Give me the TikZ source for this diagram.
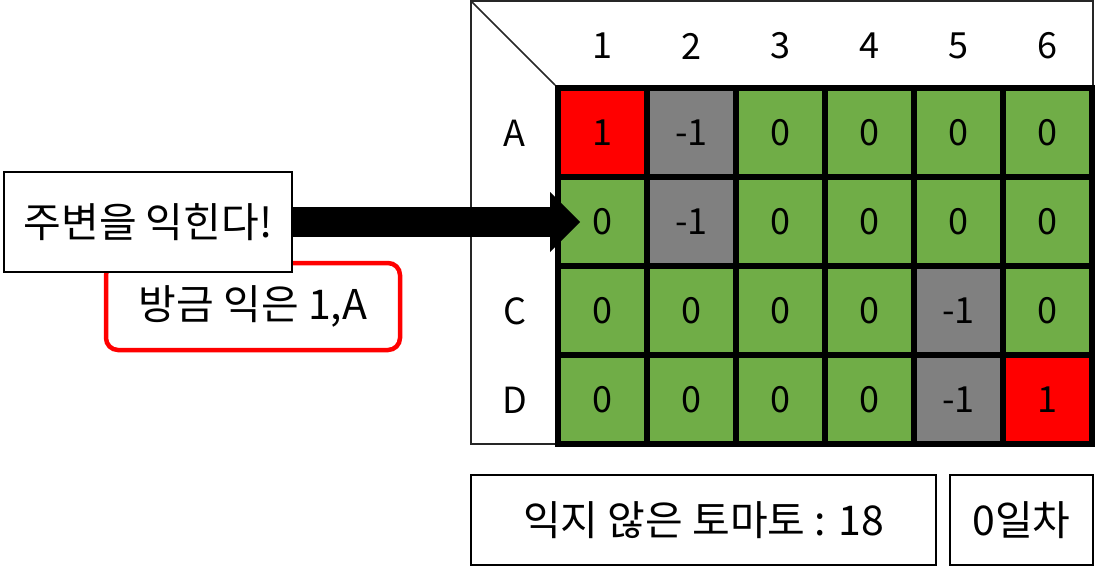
\documentclass[tikz,border=0pt]{standalone}
\usepackage{fontspec}
\setmainfont{Noto Sans CJK KR}
\usetikzlibrary{arrows.meta}
\definecolor{tgreen}{HTML}{70AD47}
\definecolor{tred}{HTML}{FF0000}
\definecolor{tgray}{HTML}{808080}
\begin{document}
\begin{tikzpicture}[x=1pt,y=-1pt,
  every node/.style={font=\fontsize{36}{40}\selectfont, inner sep=0pt},
  cell/.style={draw=black, line width=6pt, minimum width=89pt, minimum height=89pt},
  ripe/.style={cell, fill=tred},
  wall/.style={cell, fill=tgray},
  raw/.style={cell, fill=tgreen},
  kor/.style={font=\fontsize{41}{46}\selectfont},
  txtbox/.style={kor, draw=black, line width=2pt, fill=white},
  redbox/.style={kor, draw=tred, line width=4.5pt, rounded corners=12pt, fill=white},
  framestyle/.style={draw=black!85, line width=1.5pt}]
\useasboundingbox (0,0) rectangle (1098,568);

% outer frame
\coordinate (ftl) at (471,1);
\draw[framestyle] (ftl) rectangle (1093,444);

% headers
\foreach \j in {1,...,6} {
  \node (h\j) at ({602.5+89*(\j-1)},46) {\j};
}
\node (rA) at (514.5,133.5) {A};
\node (rC) at (514.5,311.5) {C};
\node (rD) at (514.5,400.5) {D};

% row A
\node[ripe] (cA1) at (602.5,132.5) {1};
\node[wall] (cA2) at (691.5,132.5) {-1};
\node[raw]  (cA3) at (780.5,132.5) {0};
\node[raw]  (cA4) at (869.5,132.5) {0};
\node[raw]  (cA5) at (958.5,132.5) {0};
\node[raw]  (cA6) at (1047.5,132.5) {0};
% row B
\node[raw]  (cB1) at (602.5,221.5) {0};
\node[wall] (cB2) at (691.5,221.5) {-1};
\node[raw]  (cB3) at (780.5,221.5) {0};
\node[raw]  (cB4) at (869.5,221.5) {0};
\node[raw]  (cB5) at (958.5,221.5) {0};
\node[raw]  (cB6) at (1047.5,221.5) {0};
% row C
\node[raw]  (cC1) at (602.5,310.5) {0};
\node[raw]  (cC2) at (691.5,310.5) {0};
\node[raw]  (cC3) at (780.5,310.5) {0};
\node[raw]  (cC4) at (869.5,310.5) {0};
\node[wall] (cC5) at (958.5,310.5) {-1};
\node[raw]  (cC6) at (1047.5,310.5) {0};
% row D
\node[raw]  (cD1) at (602.5,399.5) {0};
\node[raw]  (cD2) at (691.5,399.5) {0};
\node[raw]  (cD3) at (780.5,399.5) {0};
\node[raw]  (cD4) at (869.5,399.5) {0};
\node[wall] (cD5) at (958.5,399.5) {-1};
\node[ripe] (cD6) at (1047.5,399.5) {1};

% diagonal
\draw[framestyle] (ftl) -- (cA1.north west);

% left boxes
\node[redbox, minimum width=294pt, minimum height=87pt] (just) at (253,306.5) {방금 익은 1,A};
\node[txtbox, minimum width=288pt, minimum height=100pt] (say) at (148,222) {주변을 익힌다!};

% arrow
\coordinate (tip) at (580,222);
\draw[line width=30pt, -{Triangle[length=30pt,width=60pt,line width=0pt]}] (say.east) -- (tip);

% bottom boxes
\node[txtbox, minimum width=465pt, minimum height=90pt] (count) at (703.5,520) {익지 않은 토마토 : 18};
\node[txtbox, minimum width=143pt, minimum height=90pt] (day) at (1021.5,520) {0일차};
\end{tikzpicture}
\end{document}
